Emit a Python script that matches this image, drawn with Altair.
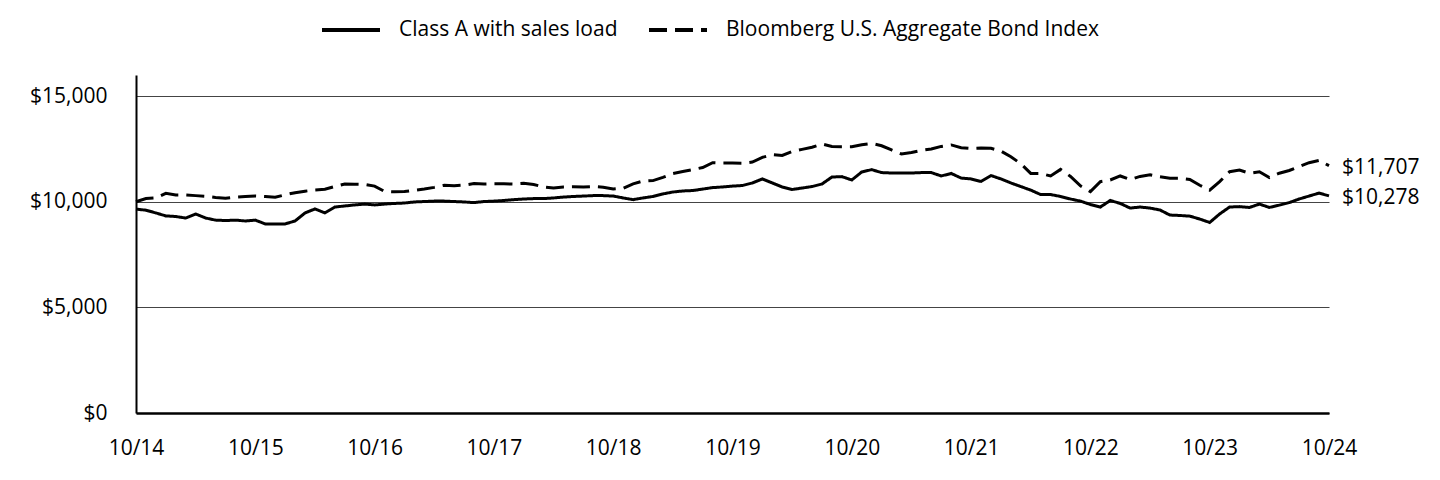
import altair as alt
import pandas as pd

SERIES = ["Class A with sales load", "Bloomberg U.S. Aggregate Bond Index"]
TICK_LABELS = ["10/14", "10/15", "10/16", "10/17", "10/18", "10/19",
               "10/20", "10/21", "10/22", "10/23", "10/24"]
END_LABELS = ["$10,278", "$11,707"]

class_a = [
    9650, 9600, 9470, 9330, 9300, 9230, 9420, 9230, 9130, 9110, 9130, 9090,
    9130, 8950, 8950, 8950, 9090, 9470, 9660, 9470, 9750, 9800, 9850, 9890,
    9850, 9890, 9920, 9940, 9990, 10010, 10030, 10030, 10010, 9990, 9960, 10010,
    10030, 10060, 10100, 10130, 10150, 10150, 10180, 10220, 10250, 10270, 10290, 10290,
    10270, 10180, 10100, 10180, 10250, 10370, 10460, 10510, 10530, 10600, 10670, 10700,
    10740, 10770, 10890, 11080, 10890, 10700, 10580, 10650, 10720, 10840, 11170, 11190,
    11030, 11410, 11520, 11380, 11360, 11360, 11360, 11380, 11380, 11220, 11340, 11120,
    11080, 10960, 11240, 11080, 10890, 10720, 10550, 10340, 10340, 10250, 10130, 10030,
    9870, 9750, 10060, 9920, 9700, 9750, 9700, 9610, 9370, 9350, 9320, 9180,
    9020, 9420, 9750, 9770, 9730, 9890, 9730, 9840, 9960, 10130, 10270, 10410,
    10278,
]

bbg = [
    10000, 10150, 10180, 10400, 10320, 10320, 10290, 10260, 10200, 10170, 10220, 10250,
    10270, 10250, 10210, 10330, 10430, 10500, 10560, 10590, 10720, 10840, 10830, 10820,
    10740, 10490, 10470, 10480, 10540, 10600, 10680, 10780, 10760, 10790, 10860, 10840,
    10850, 10850, 10840, 10870, 10820, 10700, 10650, 10700, 10710, 10700, 10720, 10690,
    10600, 10640, 10850, 10980, 11000, 11150, 11330, 11430, 11520, 11620, 11850, 11830,
    11830, 11820, 11880, 12100, 12230, 12190, 12380, 12480, 12580, 12730, 12620, 12600,
    12600, 12700, 12760, 12650, 12450, 12260, 12330, 12430, 12500, 12620, 12690, 12560,
    12520, 12540, 12530, 12400, 12130, 11800, 11340, 11340, 11220, 11530, 11200, 10750,
    10480, 10950, 11030, 11220, 11050, 11200, 11280, 11180, 11110, 11110, 11050, 10780,
    10550, 10950, 11420, 11500, 11350, 11420, 11150, 11350, 11480, 11670, 11850, 11960,
    11707,
]

rows = []
for i, v in enumerate(class_a):
    rows.append({"idx": i, "value": v, "series": SERIES[0]})
for i, v in enumerate(bbg):
    rows.append({"idx": i, "value": v, "series": SERIES[1]})
df = pd.DataFrame(rows)

last = pd.DataFrame({
    "idx": [len(class_a) - 1, len(bbg) - 1],
    "value": [class_a[-1], bbg[-1]],
    "label": END_LABELS,
})

FONT = "Open Sans"
FS = 21
label_expr = "[" + ",".join("'%s'" % t for t in TICK_LABELS) + "][round(datum.value/12)]"

x = alt.X("idx:Q",
          scale=alt.Scale(domain=[0, 120], nice=False, zero=False),
          axis=alt.Axis(values=list(range(0, 121, 12)), labelExpr=label_expr,
                        title=None, grid=False, ticks=False, domainColor="black",
                        domainWidth=2.5, labelPadding=24, labelFontSize=FS,
                        labelFont=FONT, labelColor="black", labelFlush=False,
                        labelOverlap=False, labelBound=False))
y = alt.Y("value:Q",
          scale=alt.Scale(domain=[0, 16000], nice=False),
          axis=alt.Axis(values=[0, 5000, 10000, 15000], format="$,.0f",
                        title=None, grid=True, gridColor="#444444", gridWidth=1.2,
                        ticks=False, domainColor="black", domainWidth=2,
                        labelPadding=29, labelFontSize=FS, labelFont=FONT,
                        labelColor="black", labelFlush=False))

lines = alt.Chart(df).mark_line(strokeWidth=3).encode(
    x=x, y=y,
    color=alt.Color("series:N", sort=SERIES,
                    scale=alt.Scale(domain=SERIES, range=["black", "black"]),
                    legend=alt.Legend(title=None, orient="none", direction="horizontal",
                                      legendX=184, legendY=-76,
                                      symbolType="stroke", symbolSize=3364,
                                      symbolStrokeWidth=4, labelFontSize=21,
                                      labelFont=FONT, labelColor="black",
                                      labelLimit=0,
                                      columnPadding=23, labelOffset=17, padding=0)),
    strokeDash=alt.StrokeDash("series:N", sort=SERIES,
                              scale=alt.Scale(domain=SERIES, range=[[1, 0], [18, 8]]),
                              legend=None),
    detail="series:N",
)

labels = alt.Chart(last).mark_text(align="left", baseline="middle", dx=13, dy=2,
                                   fontSize=FS, font=FONT, color="black").encode(
    x="idx:Q", y="value:Q", text="label:N"
)

chart = alt.layer(lines, labels).properties(
    width=1193, height=338,
    autosize=alt.AutoSizeParams(type="none"),
    padding={"left": 128, "top": 67, "right": 100, "bottom": 50},
).configure_view(stroke=None)

chart.save("out.html", embed_options={"renderer": "svg", "actions": False})
